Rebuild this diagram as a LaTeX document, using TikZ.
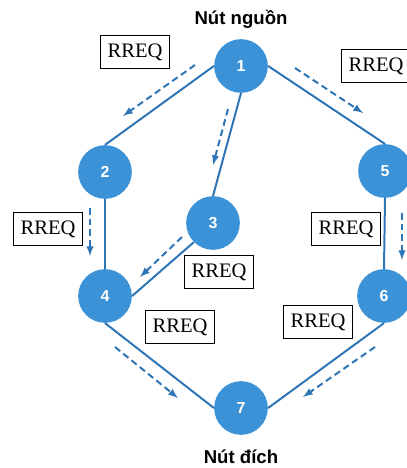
\documentclass[tikz,border=0pt]{standalone}
\usepackage{fontspec}
\setmainfont{Liberation Serif}
\setsansfont{Liberation Sans}
\definecolor{nutxanh}{RGB}{59,146,214}
\definecolor{duongxanh}{RGB}{46,117,182}
\begin{document}
\begin{tikzpicture}[x=0.02646cm,y=-0.02646cm]
  \tikzstyle{nut}=[circle,fill=nutxanh,minimum size=1.42cm,inner sep=0pt,
                   text=white,font=\sffamily\bfseries\fontsize{12}{14}\selectfont]
  \tikzstyle{hop}=[draw,line width=0.8pt,fill=white,inner xsep=5pt,minimum height=0.85cm,
                   font=\fontsize{15.5}{18}\selectfont]
  \tikzstyle{tieude}=[font=\sffamily\bfseries\fontsize{14}{16}\selectfont]
  \tikzstyle{canh}=[draw=duongxanh,line width=1.5pt]
  \tikzstyle{goi}=[draw=duongxanh,line width=1.5pt,dash pattern=on 5pt off 3pt,-latex]
  \useasboundingbox (0,0) rectangle (407,468);
  % cac nut
  \node[nut] (n1) at (241,66) {1};
  \node[nut] (n2) at (105,172) {2};
  \node[nut] (n3) at (213,223) {3};
  \node[nut] (n4) at (105,296) {4};
  \node[nut] (n5) at (385,171) {5};
  \node[nut] (n6) at (384,296) {6};
  \node[nut] (n7) at (241,408) {7};
  \node[tieude] (nguon) at (241,19) {Nút nguồn};
  \node[tieude] (dich) at (241,457) {Nút đích};
  % canh
  \draw[canh] (n1.west) -- (n2.north);
  \draw[canh] (n1.south) -- (n3.north);
  \draw[canh] (n1.east) -- (n5.north);
  \draw[canh] (n2.south) -- (n4.north);
  \draw[canh] (n3.south west) -- (n4.east);
  \draw[canh] (n5.south) -- (n6.north);
  \draw[canh] (n4.south) -- (n7.west);
  \draw[canh] (n6.south) -- (n7.east);
  % nhan RREQ
  \node[hop] (r12) at (135,52) {RREQ};
  \node[hop] (r15) at (376,66) {RREQ};
  \node[hop] (r24) at (48,229) {RREQ};
  \node[hop] (r34) at (219,272) {RREQ};
  \node[hop] (r56) at (346,229) {RREQ};
  \node[hop] (r47) at (180,327) {RREQ};
  \node[hop] (r67) at (318,322) {RREQ};
  % mui ten goi tin
  \coordinate (a12) at (195,65);  \coordinate (b12) at (123,116);
  \coordinate (a13) at (228,109); \coordinate (b13) at (213,165);
  \coordinate (a15) at (295,68);  \coordinate (b15) at (363,113);
  \coordinate (a24) at (90,208);  \coordinate (b24) at (90,256);
  \coordinate (a34) at (182,237); \coordinate (b34) at (140,277);
  \coordinate (a56) at (402,213); \coordinate (b56) at (402,260);
  \coordinate (a47) at (115,347); \coordinate (b47) at (178,398);
  \coordinate (a67) at (375,347); \coordinate (b67) at (303,397);
  \draw[goi] (a12) -- (b12);
  \draw[goi] (a13) -- (b13);
  \draw[goi] (a15) -- (b15);
  \draw[goi] (a24) -- (b24);
  \draw[goi] (a34) -- (b34);
  \draw[goi] (a56) -- (b56);
  \draw[goi] (a47) -- (b47);
  \draw[goi] (a67) -- (b67);
\end{tikzpicture}
\end{document}
